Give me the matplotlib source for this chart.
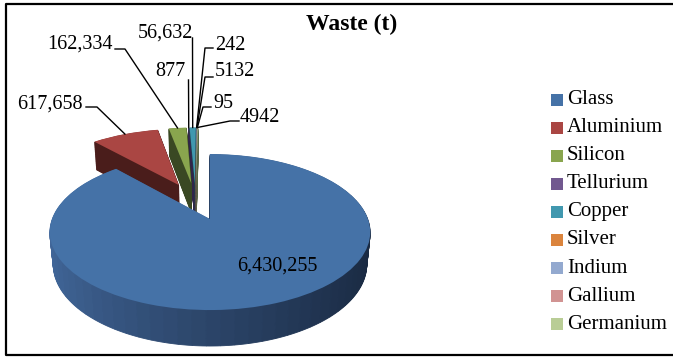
import numpy as np
import matplotlib
matplotlib.use("Agg")
import matplotlib.pyplot as plt
from matplotlib.transforms import Transform
from matplotlib.patches import Rectangle
from matplotlib.colors import to_rgb

# data
materials = ["Glass", "Aluminium", "Silicon", "Tellurium", "Copper",
             "Silver", "Indium", "Gallium", "Germanium"]
waste = [6430255, 617658, 162334, 877, 56632, 242, 5132, 95, 4942]
value_labels = ["6,430,255", "617,658", "162,334", "877", "56,632",
                "242", "5132", "95", "4942"]

top_colors = ["#4572A7", "#AA4643", "#89A54E", "#71588F", "#4198AF",
              "#DB843D", "#93A9CF", "#D19392", "#B9CD96"]
side_colors = ["#2B4670", "#4A1D1B", "#3A4823", "#30254A", "#1C4652",
               "#6A3B16", "#44536E", "#6B4746", "#5A6748"]
glass_side_light = "#43699D"
glass_side_dark = "#1A2A42"

# 3d look (pixel space, y down)
A, SIN, COS = 158.0, 0.48, 0.877
K, KH = COS / 5.25, SIN / 5.25
CX, CY = 210.0, 219.0
EXPLODE = 0.265
DEPTH = 0.236
N_LAYERS = 40
N_SUB = 72

vals = np.array(waste, dtype=float)
frac = vals / vals.sum()
bis = np.radians(90 - 360 * (np.cumsum(frac) - frac / 2))
shifts = [(EXPLODE * np.cos(b), EXPLODE * np.sin(b)) for b in bis]
origin = shifts[0]


class Tilt(Transform):
    input_dims = 2
    output_dims = 2

    def __init__(self, h, shift):
        super().__init__()
        self.h = h
        self.shift = shift

    def transform_non_affine(self, xy):
        xy = np.asarray(xy, dtype=float)
        x = xy[:, 0] + self.shift[0] - origin[0]
        y = xy[:, 1] + self.shift[1] - origin[1]
        den = 1 + K * y - KH * self.h
        px = CX + A * x / den
        py = CY - A * (y * SIN + self.h * COS) / den
        return np.column_stack([px, py])


plt.rcParams["font.family"] = ["Liberation Serif", "DejaVu Serif"]
fig = plt.figure(figsize=(6.73, 3.57), dpi=100)
ax = fig.add_axes([0, 0, 1, 1])

# side: glass split in thin pieces so the wall can be shaded
sub_vals = [waste[0] / N_SUB] * N_SUB + waste[1:]
owner = [0] * N_SUB + list(range(1, len(waste)))
light, dark = np.array(to_rgb(glass_side_light)), np.array(to_rgb(glass_side_dark))
sub_cols = []
for i in range(N_SUB):
    ang = np.radians(90 - 360 * frac[0] * (i + 0.5) / N_SUB)
    t = ((1 + np.cos(ang)) / 2) ** 0.8
    sub_cols.append(tuple(light * (1 - t) + dark * t))
sub_cols += side_colors[1:]

for h in np.linspace(-DEPTH, -DEPTH / N_LAYERS, N_LAYERS):
    wedges, _ = ax.pie(sub_vals, colors=sub_cols, startangle=90, counterclock=False)
    for w, o in zip(wedges, owner):
        w.set_edgecolor(w.get_facecolor())
        w.set_linewidth(0.6)
        w.set_transform(Tilt(h, shifts[o]) + ax.transData)

wedges, _ = ax.pie(waste, colors=top_colors, startangle=90, counterclock=False,
                   wedgeprops=dict(linewidth=0))
for w, s in zip(wedges, shifts):
    w.set_transform(Tilt(0.0, s) + ax.transData)

ax.set_aspect("auto")
ax.set_xlim(0, 673)
ax.set_ylim(357, 0)
ax.axis("off")

# leader labels: text xy, alignment, line start, elbow
label_layout = {
    1: ((83, 104), "right", (86, 107), (97, 107)),
    2: ((113, 44), "right", (115, 49), (125, 49)),
    3: ((186, 72), "right", (188.5, 80), (188.5, 80)),
    4: ((193, 33), "right", (192.5, 38), (192.5, 38)),
    5: ((215, 45), "left", (213, 48), (205, 48)),
    6: ((215, 72), "left", (213, 77), (205, 77)),
    7: ((213, 104), "left", (211, 107), (203, 107)),
    8: ((240, 117), "left", (239, 121), (230, 121)),
}
for i, (txy, ha, p0, p1) in label_layout.items():
    tr = Tilt(0.0, shifts[i])
    anchor = tr.transform(np.array([[np.cos(bis[i]), np.sin(bis[i])]]))[0]
    ax.plot([p0[0], p1[0], anchor[0]], [p0[1], p1[1], anchor[1]],
            color="black", lw=1.0)
    ax.text(txy[0], txy[1], value_labels[i], ha=ha, va="center", fontsize=14.5)

ax.text(277, 266, value_labels[0], ha="center", va="center", fontsize=14.5)

ax.text(352, 24, "Waste (t)", ha="center", va="center", fontsize=17,
        fontweight="bold")

# legend
for i, (name, col) in enumerate(zip(materials, top_colors)):
    y = 99.5 + i * 28.1
    ax.add_patch(Rectangle((551, y - 6), 12, 12, facecolor=col, edgecolor="none"))
    ax.text(567, y, name, ha="left", va="center", fontsize=15)

# chart frame
ax.plot([690, 6, 6, 690], [3.5, 3.5, 354.5, 354.5], color="black", lw=1.6,
        clip_on=False)

fig.savefig("out.png", dpi=100)
